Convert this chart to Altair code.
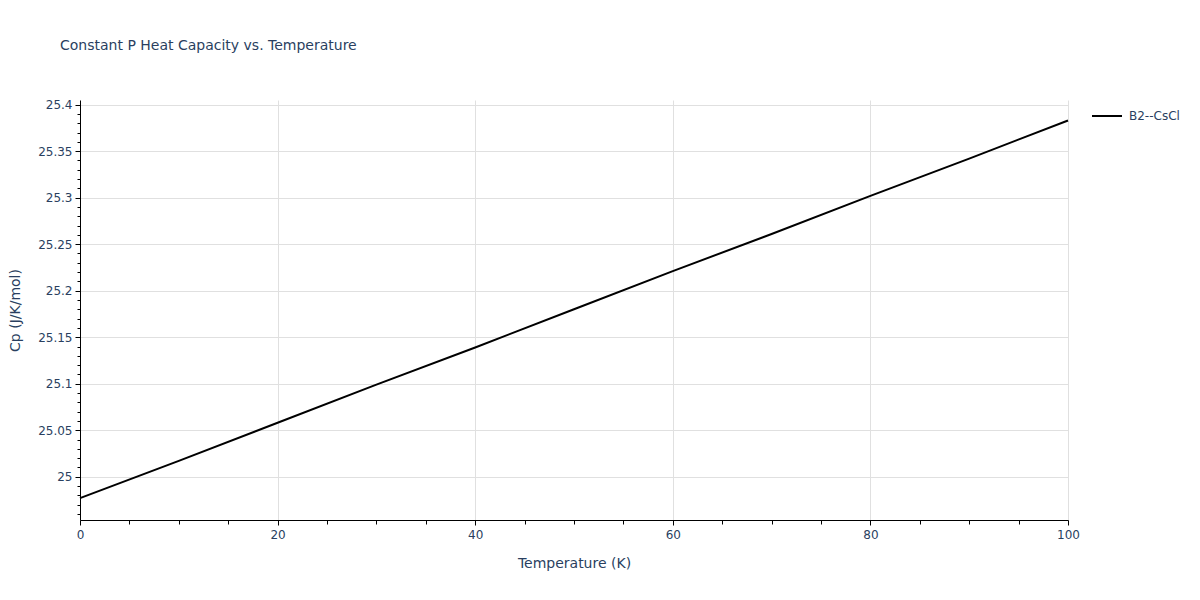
import altair as alt
import pandas as pd

temps = [0, 10, 20, 30, 40, 50, 60, 70, 80, 90, 100]
cp = [24.977, 25.017, 25.058, 25.099, 25.139, 25.180, 25.221, 25.261, 25.302, 25.342, 25.383]
series = ["B2--CsCl"] * len(temps)

x_major = [0, 20, 40, 60, 80, 100]
x_minor = [5, 10, 15, 25, 30, 35, 45, 50, 55, 65, 70, 75, 85, 90, 95]
y_major = [25.0, 25.05, 25.1, 25.15, 25.2, 25.25, 25.3, 25.35, 25.4]
y_minor = [24.96, 24.97, 24.98, 24.99, 25.01, 25.02, 25.03, 25.04, 25.06, 25.07, 25.08, 25.09,
           25.11, 25.12, 25.13, 25.14, 25.16, 25.17, 25.18, 25.19, 25.21, 25.22, 25.23, 25.24,
           25.26, 25.27, 25.28, 25.29, 25.31, 25.32, 25.33, 25.34, 25.36, 25.37, 25.38, 25.39]

df = pd.DataFrame({"T": temps, "Cp": cp, "series": series})

FONT = "DejaVu Sans"
TXT = "#2a3f5f"

xscale = alt.Scale(domain=[0, 100], nice=False)
yscale = alt.Scale(domain=[24.9535, 25.405], nice=False, zero=False)

line = alt.Chart(df).mark_line(strokeWidth=2).encode(
    x=alt.X("T:Q", scale=xscale, axis=alt.Axis(
        values=x_major, title="Temperature (K)", orient="bottom", grid=True,
        gridColor="#e0e0e0", domainColor="black", tickColor="black", tickSize=5,
        labelFontSize=12, labelColor=TXT, labelFont=FONT, labelPadding=4,
        labelFlush=False, labelOverlap=False,
        titleFontSize=14, titleColor=TXT, titleFont=FONT, titleFontWeight="normal",
        titlePadding=16, format="d")),
    y=alt.Y("Cp:Q", scale=yscale, axis=alt.Axis(
        values=y_major, title="Cp (J/K/mol)", orient="left", grid=True,
        gridColor="#e0e0e0", domainColor="black", tickColor="black", tickSize=5,
        labelFontSize=12, labelColor=TXT, labelFont=FONT, labelPadding=3,
        labelFlush=False, labelOverlap=False,
        titleFontSize=14, titleColor=TXT, titleFont=FONT, titleFontWeight="normal",
        titlePadding=15, format=".2~f")),
    color=alt.Color("series:N", scale=alt.Scale(range=["black"]), legend=alt.Legend(
        title=None, orient="none", legendX=1011, legendY=0, symbolType="stroke",
        symbolSize=900, symbolStrokeWidth=2, labelFontSize=12, labelColor=TXT,
        labelFont=FONT, labelOffset=6)),
)

minor = alt.Chart(df).mark_point(opacity=0).encode(
    x=alt.X("T:Q", scale=xscale, axis=alt.Axis(
        values=x_minor, labels=False, grid=False, domain=False, title=None,
        orient="bottom", tickColor="black", tickSize=4)),
    y=alt.Y("Cp:Q", scale=yscale, axis=alt.Axis(
        values=y_minor, labels=False, grid=False, domain=False, title=None,
        orient="left", tickColor="black", tickSize=3)),
)

chart = alt.layer(minor, line).resolve_axis(x="independent", y="independent").properties(
    width=988, height=420,
    autosize=alt.AutoSizeParams(type="none"),
    padding={"left": 72, "top": 92, "right": 124, "bottom": 72},
    title=alt.TitleParams("Constant P Heat Capacity vs. Temperature", anchor="start",
                          frame="group", dx=-20, offset=46, fontSize=14,
                          font=FONT, color=TXT, fontWeight="normal"),
).configure_view(stroke=None)

chart.save("out.html", embed_options={"renderer": "svg", "actions": False})
